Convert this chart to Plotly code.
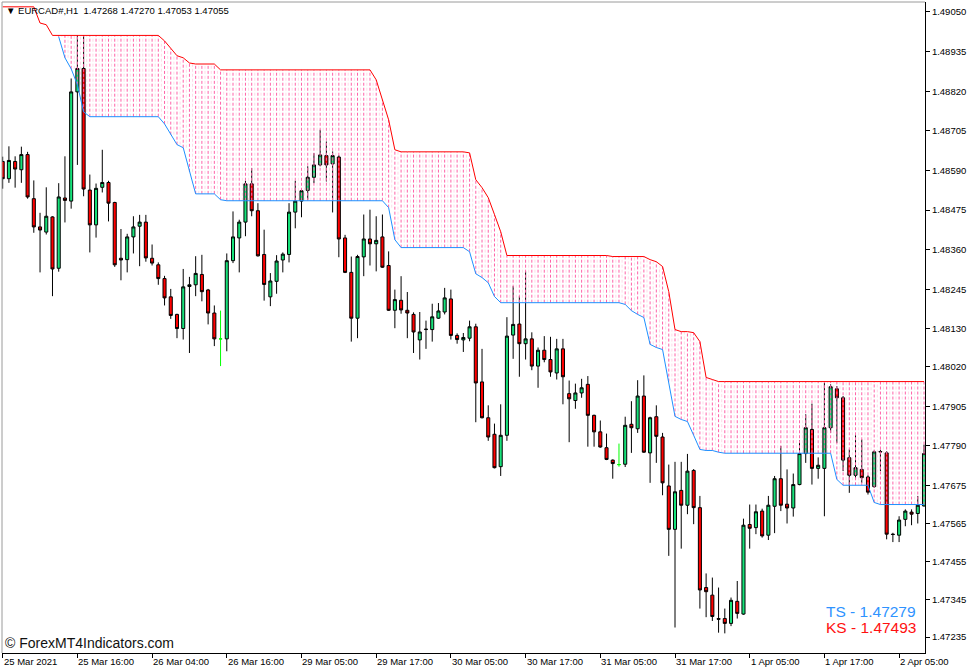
import plotly.graph_objects as go

# ---------------- data (EURCAD H1, bar index 0..148) ----------------
opens = [
    1.48616, 1.48566, 1.48616, 1.48592, 1.48636, 1.48508, 1.48426, 1.48411, 1.48455, 1.48306,
    1.48510, 1.48501, 1.48818, 1.48886, 1.48533, 1.48432, 1.48541, 1.48555, 1.48497, 1.48335,
    1.48331, 1.48397, 1.48428, 1.48440, 1.48335, 1.48316, 1.48276, 1.48223, 1.48172, 1.48131,
    1.48253, 1.48258, 1.48288, 1.48243, 1.48176, 1.48101, 1.48101, 1.48328, 1.48394, 1.48440,
    1.48551, 1.48473, 1.48346, 1.48223, 1.48268, 1.48330, 1.48346, 1.48469, 1.48501, 1.48532,
    1.48570, 1.48606, 1.48633, 1.48609, 1.48629, 1.48394, 1.48294, 1.48161, 1.48339, 1.48391,
    1.48377, 1.48397, 1.48314, 1.48184, 1.48213, 1.48184, 1.48172, 1.48098, 1.48128, 1.48128,
    1.48161, 1.48179, 1.48217, 1.48111, 1.48098, 1.48103, 1.48136, 1.47976, 1.47872, 1.47824,
    1.47730, 1.47821, 1.48112, 1.48144, 1.48087, 1.48101, 1.48022, 1.48068, 1.48041, 1.48002,
    1.48072, 1.47942, 1.47922, 1.47944, 1.47969, 1.47879, 1.47831, 1.47785, 1.47749, 1.47736,
    1.47737, 1.47853, 1.47840, 1.47935, 1.47770, 1.47875, 1.47816, 1.47674, 1.47548, 1.47661,
    1.47618, 1.47719, 1.47611, 1.47379, 1.47357, 1.47289, 1.47289, 1.47275, 1.47339, 1.47302,
    1.47562, 1.47553, 1.47601, 1.47531, 1.47615, 1.47695, 1.47621, 1.47610, 1.47678, 1.47768,
    1.47838, 1.47725, 1.47725, 1.47843, 1.47956, 1.47930, 1.47756, 1.47705, 1.47722, 1.47700,
    1.47672, 1.47774, 1.47770, 1.47534, 1.47531, 1.47577, 1.47598, 1.47594, 1.47616,
]
highs = [
    1.48630, 1.48660, 1.48631, 1.48659, 1.48644, 1.48561, 1.48467, 1.48541, 1.48457, 1.48553,
    1.48631, 1.48857, 1.48983, 1.48983, 1.48578, 1.48552, 1.48650, 1.48560, 1.48499, 1.48420,
    1.48406, 1.48457, 1.48461, 1.48461, 1.48375, 1.48323, 1.48284, 1.48246, 1.48174, 1.48304,
    1.48281, 1.48341, 1.48345, 1.48246, 1.48198, 1.48183, 1.48349, 1.48471, 1.48447, 1.48560,
    1.48597, 1.48495, 1.48418, 1.48292, 1.48344, 1.48352, 1.48495, 1.48560, 1.48536, 1.48602,
    1.48640, 1.48708, 1.48674, 1.48645, 1.48634, 1.48403, 1.48340, 1.48345, 1.48462, 1.48476,
    1.48457, 1.48462, 1.48355, 1.48244, 1.48283, 1.48237, 1.48178, 1.48179, 1.48154, 1.48203,
    1.48205, 1.48249, 1.48244, 1.48117, 1.48118, 1.48154, 1.48145, 1.48072, 1.47908, 1.47855,
    1.47911, 1.48164, 1.48254, 1.48225, 1.48297, 1.48120, 1.48076, 1.48109, 1.48107, 1.48101,
    1.48101, 1.47980, 1.47971, 1.47985, 1.47993, 1.47881, 1.47864, 1.47826, 1.47751, 1.47797,
    1.47875, 1.47920, 1.47981, 1.47995, 1.47875, 1.47908, 1.47828, 1.47736, 1.47744, 1.47744,
    1.47767, 1.47723, 1.47645, 1.47420, 1.47408, 1.47379, 1.47318, 1.47350, 1.47398, 1.47579,
    1.47620, 1.47620, 1.47608, 1.47645, 1.47703, 1.47790, 1.47722, 1.47710, 1.47807, 1.47882,
    1.47913, 1.47757, 1.47973, 1.47969, 1.47964, 1.47935, 1.47780, 1.47821, 1.47809, 1.47705,
    1.47777, 1.47779, 1.47775, 1.47538, 1.47586, 1.47606, 1.47606, 1.47645, 1.47794,
]
lows = [
    1.48537, 1.48554, 1.48540, 1.48554, 1.48508, 1.48409, 1.48294, 1.48404, 1.48225, 1.48296,
    1.48439, 1.48479, 1.48606, 1.48515, 1.48352, 1.48395, 1.48526, 1.48442, 1.48310, 1.48271,
    1.48294, 1.48349, 1.48312, 1.48325, 1.48314, 1.48258, 1.48198, 1.48159, 1.48103, 1.48099,
    1.48060, 1.48225, 1.48210, 1.48143, 1.48080, 1.48022, 1.48065, 1.48321, 1.48294, 1.48399,
    1.48457, 1.48340, 1.48212, 1.48196, 1.48232, 1.48294, 1.48323, 1.48422, 1.48454, 1.48505,
    1.48553, 1.48602, 1.48558, 1.48468, 1.48338, 1.48292, 1.48093, 1.48103, 1.48283, 1.48314,
    1.48297, 1.48307, 1.48182, 1.48132, 1.48174, 1.48103, 1.48060, 1.48041, 1.48072, 1.48093,
    1.48159, 1.48172, 1.48099, 1.48087, 1.48063, 1.48094, 1.47859, 1.47870, 1.47805, 1.47725,
    1.47703, 1.47805, 1.48043, 1.47991, 1.48041, 1.48010, 1.47959, 1.48033, 1.47991, 1.47983,
    1.47911, 1.47801, 1.47898, 1.47930, 1.47788, 1.47788, 1.47785, 1.47749, 1.47695, 1.47730,
    1.47729, 1.47770, 1.47828, 1.47770, 1.47683, 1.47741, 1.47647, 1.47471, 1.47263, 1.47492,
    1.47592, 1.47563, 1.47318, 1.47293, 1.47282, 1.47248, 1.47246, 1.47267, 1.47289, 1.47300,
    1.47492, 1.47534, 1.47524, 1.47517, 1.47537, 1.47601, 1.47565, 1.47585, 1.47676, 1.47741,
    1.47678, 1.47695, 1.47586, 1.47828, 1.47799, 1.47717, 1.47654, 1.47693, 1.47683, 1.47649,
    1.47669, 1.47717, 1.47519, 1.47511, 1.47511, 1.47557, 1.47560, 1.47565, 1.47614,
]
closes = [
    1.48566, 1.48619, 1.48594, 1.48636, 1.48513, 1.48426, 1.48417, 1.48457, 1.48304, 1.48513,
    1.48503, 1.48818, 1.48886, 1.48536, 1.48432, 1.48538, 1.48555, 1.48495, 1.48316, 1.48330,
    1.48397, 1.48426, 1.48440, 1.48336, 1.48321, 1.48276, 1.48220, 1.48169, 1.48131, 1.48252,
    1.48258, 1.48291, 1.48238, 1.48176, 1.48101, 1.48101, 1.48328, 1.48397, 1.48440, 1.48551,
    1.48473, 1.48342, 1.48259, 1.48269, 1.48327, 1.48347, 1.48469, 1.48501, 1.48531, 1.48570,
    1.48606, 1.48635, 1.48606, 1.48633, 1.48391, 1.48294, 1.48161, 1.48340, 1.48391, 1.48377,
    1.48387, 1.48309, 1.48184, 1.48215, 1.48185, 1.48176, 1.48121, 1.48121, 1.48129, 1.48165,
    1.48182, 1.48220, 1.48111, 1.48099, 1.48105, 1.48136, 1.47973, 1.47872, 1.47816, 1.47727,
    1.47821, 1.48109, 1.48143, 1.48087, 1.48101, 1.48022, 1.48068, 1.48041, 1.48005, 1.48072,
    1.47991, 1.47927, 1.47944, 1.47959, 1.47879, 1.47831, 1.47787, 1.47751, 1.47739, 1.47736,
    1.47850, 1.47843, 1.47935, 1.47772, 1.47872, 1.47818, 1.47683, 1.47548, 1.47657, 1.47618,
    1.47717, 1.47611, 1.47372, 1.47367, 1.47295, 1.47287, 1.47275, 1.47342, 1.47304, 1.47560,
    1.47551, 1.47599, 1.47529, 1.47618, 1.47695, 1.47618, 1.47610, 1.47678, 1.47768, 1.47843,
    1.47725, 1.47734, 1.47843, 1.47962, 1.47930, 1.47749, 1.47705, 1.47727, 1.47698, 1.47656,
    1.47773, 1.47773, 1.47534, 1.47533, 1.47575, 1.47601, 1.47592, 1.47618, 1.47768,
]
# KS (red, upper) line
ks_line = [
    1.49065, 1.49065, 1.49065, 1.49065, 1.49065, 1.49065, 1.49018, 1.49013, 1.48982, 1.48982,
    1.48982, 1.48982, 1.48982, 1.48982, 1.48982, 1.48982, 1.48982, 1.48982, 1.48982, 1.48982,
    1.48982, 1.48982, 1.48982, 1.48982, 1.48982, 1.48982, 1.48966, 1.48943, 1.48923, 1.48917,
    1.48902, 1.48899, 1.48899, 1.48899, 1.48899, 1.48882, 1.48882, 1.48882, 1.48882, 1.48882,
    1.48882, 1.48882, 1.48882, 1.48882, 1.48882, 1.48882, 1.48882, 1.48882, 1.48882, 1.48882,
    1.48882, 1.48882, 1.48882, 1.48882, 1.48882, 1.48882, 1.48882, 1.48882, 1.48882, 1.48882,
    1.48853, 1.48795, 1.48737, 1.48650, 1.48644, 1.48644, 1.48644, 1.48644, 1.48644, 1.48644,
    1.48644, 1.48644, 1.48644, 1.48644, 1.48644, 1.48641, 1.48563, 1.48540, 1.48511, 1.48462,
    1.48412, 1.48343, 1.48343, 1.48343, 1.48343, 1.48343, 1.48343, 1.48343, 1.48343, 1.48343,
    1.48343, 1.48343, 1.48343, 1.48343, 1.48343, 1.48343, 1.48343, 1.48343, 1.48340, 1.48340,
    1.48340, 1.48340, 1.48340, 1.48340, 1.48331, 1.48325, 1.48311, 1.48238, 1.48128, 1.48122,
    1.48122, 1.48119, 1.48093, 1.47989, 1.47983, 1.47977, 1.47977, 1.47977, 1.47977, 1.47977,
    1.47977, 1.47977, 1.47977, 1.47977, 1.47977, 1.47977, 1.47977, 1.47977, 1.47977, 1.47977,
    1.47977, 1.47977, 1.47977, 1.47977, 1.47977, 1.47977, 1.47977, 1.47977, 1.47977, 1.47977,
    1.47977, 1.47977, 1.47977, 1.47977, 1.47977, 1.47977, 1.47977, 1.47977, 1.47977,
]
# TS (blue, lower) line
ts_line = [
    None, None, None, None, None, None, None, None, None, 1.48978,
    1.48917, 1.48885, 1.48839, 1.48760, 1.48746, 1.48746, 1.48746, 1.48746, 1.48746, 1.48746,
    1.48746, 1.48746, 1.48746, 1.48746, 1.48746, 1.48746, 1.48725, 1.48694, 1.48665, 1.48656,
    1.48586, 1.48522, 1.48522, 1.48522, 1.48522, 1.48505, 1.48502, 1.48502, 1.48502, 1.48502,
    1.48502, 1.48502, 1.48502, 1.48502, 1.48502, 1.48502, 1.48502, 1.48502, 1.48502, 1.48502,
    1.48502, 1.48502, 1.48502, 1.48502, 1.48502, 1.48502, 1.48502, 1.48502, 1.48502, 1.48502,
    1.48502, 1.48502, 1.48482, 1.48389, 1.48366, 1.48366, 1.48366, 1.48366, 1.48366, 1.48366,
    1.48366, 1.48366, 1.48366, 1.48366, 1.48366, 1.48354, 1.48290, 1.48279, 1.48264, 1.48224,
    1.48206, 1.48206, 1.48206, 1.48206, 1.48206, 1.48206, 1.48206, 1.48206, 1.48206, 1.48206,
    1.48206, 1.48206, 1.48206, 1.48206, 1.48206, 1.48206, 1.48206, 1.48206, 1.48206, 1.48206,
    1.48201, 1.48183, 1.48172, 1.48163, 1.48085, 1.48076, 1.48070, 1.47977, 1.47876, 1.47867,
    1.47861, 1.47821, 1.47780, 1.47777, 1.47777, 1.47772, 1.47769, 1.47769, 1.47769, 1.47769,
    1.47769, 1.47769, 1.47769, 1.47769, 1.47769, 1.47769, 1.47769, 1.47769, 1.47769, 1.47769,
    1.47769, 1.47769, 1.47769, 1.47769, 1.47693, 1.47676, 1.47676, 1.47676, 1.47676, 1.47676,
    1.47626, 1.47620, 1.47620, 1.47620, 1.47620, 1.47620, 1.47620, 1.47620, 1.47620,
]

x_tick_bars = [0, 12, 24, 36, 48, 60, 72, 84, 96, 108, 120, 132, 144]
x_tick_labels = ["25 Mar 2021", "25 Mar 16:00", "26 Mar 04:00", "26 Mar 16:00",
                 "29 Mar 05:00", "29 Mar 17:00", "30 Mar 05:00", "30 Mar 17:00",
                 "31 Mar 05:00", "31 Mar 17:00", "1 Apr 05:00", "1 Apr 17:00",
                 "2 Apr 05:00"]
y_tick_vals = [1.49050, 1.48935, 1.48820, 1.48705, 1.48590, 1.48475, 1.48360, 1.48245,
               1.48130, 1.48020, 1.47905, 1.47790, 1.47675, 1.47565, 1.47455, 1.47345,
               1.47235]
y_tick_labels = ["1.49050", "1.48935", "1.48820", "1.48705", "1.48590", "1.48475",
                 "1.48360", "1.48245", "1.48130", "1.48020", "1.47905", "1.47790",
                 "1.47675", "1.47565", "1.47455", "1.47345", "1.47235"]

header_text = "\u25BC EURCAD#,H1  1.47268 1.47270 1.47053 1.47055"
ts_label = "TS - 1.47279"
ks_label = "KS - 1.47493"
copyright_text = "\u00A9 ForexMT4Indicators.com"

# ---------------- figure ----------------
GREEN = "#17E27A"
RED = "#FF0000"
FONT = "Liberation Sans, Arial, sans-serif"

bars = list(range(len(opens)))
normal = [i for i in bars if opens[i] != closes[i]]
doji = [i for i in bars if opens[i] == closes[i]]

fig = go.Figure()

fig.add_trace(go.Candlestick(
    x=[bars[i] for i in normal],
    open=[opens[i] for i in normal], high=[highs[i] for i in normal],
    low=[lows[i] for i in normal], close=[closes[i] for i in normal],
    increasing=dict(fillcolor=GREEN, line=dict(color="black", width=1)),
    decreasing=dict(fillcolor=RED, line=dict(color="black", width=1)),
    whiskerwidth=0, hoverinfo="skip", showlegend=False))

fig.add_trace(go.Candlestick(
    x=[bars[i] for i in doji],
    open=[opens[i] for i in doji], high=[highs[i] for i in doji],
    low=[lows[i] for i in doji], close=[closes[i] for i in doji],
    increasing=dict(fillcolor="#00FF00", line=dict(color="#00FF00", width=1)),
    decreasing=dict(fillcolor="#00FF00", line=dict(color="#00FF00", width=1)),
    whiskerwidth=0, hoverinfo="skip", showlegend=False))

# pink dotted histogram between the two lines
dark_x, dark_y, light_x, light_y = [], [], [], []
for i in bars:
    if ts_line[i] is None:
        continue
    dark_x += [i, i, None]
    dark_y += [ts_line[i], ks_line[i], None]
    if i + 1 < len(bars) and ts_line[i + 1] is not None:
        lo = max(ts_line[i], ts_line[i + 1])
        hi = min(ks_line[i], ks_line[i + 1])
        if hi > lo:
            light_x += [i + 0.5, i + 0.5, None]
            light_y += [lo, hi, None]

fig.add_trace(go.Scatter(x=light_x, y=light_y, mode="lines",
                         line=dict(color="#FFD9E8", width=1, dash="3px,2px"),
                         hoverinfo="skip", showlegend=False))
fig.add_trace(go.Scatter(x=dark_x, y=dark_y, mode="lines",
                         line=dict(color="#FF62A8", width=1, dash="3px,2px"),
                         hoverinfo="skip", showlegend=False))

fig.add_trace(go.Scatter(x=bars, y=ks_line, mode="lines",
                         line=dict(color=RED, width=1),
                         hoverinfo="skip", showlegend=False))
fig.add_trace(go.Scatter(x=bars, y=ts_line, mode="lines",
                         line=dict(color="#1E90FF", width=1),
                         connectgaps=False, hoverinfo="skip", showlegend=False))

annotations = []
for b, lab in zip(x_tick_bars, x_tick_labels):
    annotations.append(dict(x=b, xref="x", y=0, yref="paper", text=lab,
                            xanchor="left", yanchor="top", yshift=-1, xshift=-1,
                            showarrow=False, font=dict(family=FONT, size=9.5, color="black")))
annotations += [
    dict(x=0, xref="paper", y=1, yref="paper", text=header_text, xanchor="left",
         yanchor="top", xshift=2, yshift=-1, showarrow=False,
         font=dict(family=FONT, size=9.5, color="black")),
    dict(x=0, xref="paper", y=0, yref="paper", text=copyright_text, xanchor="left",
         yanchor="bottom", xshift=1, yshift=0, showarrow=False,
         font=dict(family=FONT, size=14, color="#111111")),
    dict(x=1, xref="paper", y=0, yref="paper", text=ts_label, xanchor="right",
         yanchor="middle", xshift=-7, yshift=42, showarrow=False,
         font=dict(family=FONT, size=15.5, color="#2E93FF")),
    dict(x=1, xref="paper", y=0, yref="paper", text=ks_label, xanchor="right",
         yanchor="middle", xshift=-7, yshift=26, showarrow=False,
         font=dict(family=FONT, size=15.5, color="#FF1010")),
]

fig.update_layout(
    width=977, height=672,
    margin=dict(l=2, r=52, t=2, b=19, autoexpand=False),
    paper_bgcolor="white", plot_bgcolor="white",
    showlegend=False, boxgap=0.3,
    font=dict(family=FONT, size=9.5, color="black"),
    annotations=annotations,
    shapes=[
        dict(type="line", xref="paper", yref="paper", x0=0, x1=0, y0=0, y1=1,
             line=dict(color="#9A9A9A", width=1)),
        dict(type="line", xref="paper", yref="paper", x0=0, x1=1, y0=1, y1=1,
             line=dict(color="#9A9A9A", width=1)),
    ],
)
fig.update_xaxes(range=[-0.11, 148.16], rangeslider_visible=False, showgrid=False,
                 zeroline=False, showline=True, linecolor="black", linewidth=1,
                 ticks="outside", ticklen=4, tickcolor="black", tickwidth=1,
                 tickvals=x_tick_bars, showticklabels=False, automargin=False)
fig.update_yaxes(side="right", range=[1.47189, 1.49079], showgrid=False, zeroline=False,
                 showline=True, linecolor="black", linewidth=1,
                 ticks="outside", ticklen=4, tickcolor="black", tickwidth=1,
                 tickvals=y_tick_vals, ticktext=y_tick_labels, automargin=False,
                 tickfont=dict(family=FONT, size=9.5, color="black"))

fig.write_html("out.html", config={"displayModeBar": False})

# remove the browser's default page margin so the figure sits at the window's top-left
with open("out.html", "r", encoding="utf-8") as f:
    page = f.read()
page = page.replace("<head>", "<head><style>html,body{margin:0;padding:0;overflow:hidden;}</style>", 1)
with open("out.html", "w", encoding="utf-8") as f:
    f.write(page)
